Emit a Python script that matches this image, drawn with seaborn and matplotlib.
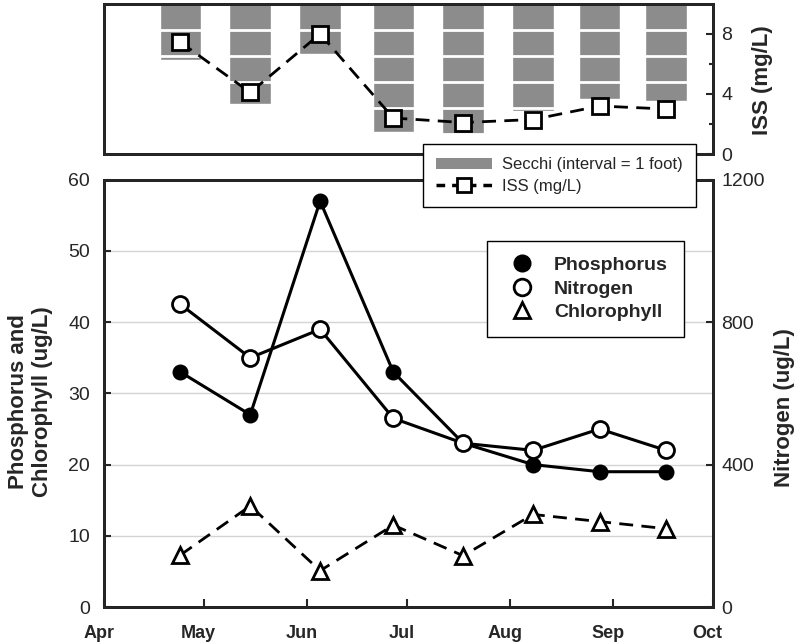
import pandas as pd
import matplotlib
matplotlib.use("Agg")
import matplotlib.pyplot as plt
import matplotlib.dates as mdates
import matplotlib.transforms as mtransforms
from matplotlib.lines import Line2D
from matplotlib.patches import Patch
import seaborn as sns

# sampling dates
dates = pd.to_datetime(["2009-04-24", "2009-05-15", "2009-06-05", "2009-06-27",
                        "2009-07-18", "2009-08-08", "2009-08-28", "2009-09-17"])
phosphorus = [33, 27, 57, 33, 23, 20, 19, 19]
nitrogen = [850, 700, 780, 530, 460, 440, 500, 440]
chlorophyll = [7.3, 14.2, 5.1, 11.5, 7.2, 13.0, 12.0, 11.0]
iss = [7.45, 4.1, 8.0, 2.4, 2.1, 2.3, 3.2, 3.0]
secchi_ft = [2.15, 3.83, 1.93, 4.92, 5.0, 4.1, 3.65, 3.72]

sns.set_style("ticks")
plt.rcParams["font.family"] = ["Liberation Sans", "DejaVu Sans"]
plt.rcParams["axes.linewidth"] = 2
plt.rcParams["xtick.direction"] = "in"
plt.rcParams["ytick.direction"] = "in"

fig = plt.figure(figsize=(7.99, 6.42), dpi=100)
ax_s = fig.add_axes([0.130, 0.760, 0.762, 0.234])
ax = fig.add_axes([0.130, 0.0545, 0.762, 0.6655])

x0 = pd.Timestamp("2009-04-01")
x1 = pd.Timestamp("2009-10-01")

# ---- top panel: Secchi bars + ISS ----
ax_s.bar(dates, secchi_ft, width=12.5, color="#8c8c8c", zorder=1)
for ft in range(1, 6):
    ax_s.axhline(ft, color="white", lw=2, zorder=2)
ax_s.set_ylim(5.76, 0)
ax_s.set_xlim(x0, x1)
ax_s.set_yticks([])
ax_s.set_xticks([])
for sp in ax_s.spines.values():
    sp.set_color("black")

ax_i = ax_s.twinx()
sns.lineplot(x=dates, y=iss, ax=ax_i, color="black", lw=2, ls=(0, (5, 3)),
             marker="s", markersize=11, markerfacecolor="white",
             markeredgecolor="black", markeredgewidth=2, legend=False)
ax_i.set_ylim(0, 10)
ax_i.set_xlim(x0, x1)
ax_i.set_yticks([0, 4, 8])
ax_i.set_yticks([2, 6], minor=True)
ax_i.tick_params(axis="y", which="major", labelsize=14, length=5, width=1.5, pad=6)
ax_i.tick_params(axis="y", which="minor", length=3, width=1.5)
ax_i.set_ylabel("ISS (mg/L)", fontsize=16, fontweight="bold")
ax_i.yaxis.set_label_coords(1.064, 0.49)
ax_i.set_xlabel("")

# ---- bottom panel ----
ax.grid(axis="y", color="#d4d4d4", lw=1)
ax.set_axisbelow(True)
sns.lineplot(x=dates, y=phosphorus, ax=ax, color="black", lw=2.2,
             marker="o", markersize=10, markerfacecolor="black",
             markeredgecolor="black", markeredgewidth=1.5, legend=False, zorder=3)
sns.lineplot(x=dates, y=chlorophyll, ax=ax, color="black", lw=2, ls=(0, (5, 3)),
             marker="^", markersize=12, markerfacecolor="white",
             markeredgecolor="black", markeredgewidth=2, legend=False, zorder=3)
ax.set_ylim(0, 60)
ax.set_yticks(range(0, 61, 10))
ax.set_xlim(x0, x1)
ax.xaxis.set_major_locator(mdates.MonthLocator())
ax.xaxis.set_major_formatter(mdates.DateFormatter("%b"))
ax.tick_params(axis="x", labelsize=13, length=6, width=1.5, pad=13)
shift = mtransforms.ScaledTranslation(-5 / 100, 0, fig.dpi_scale_trans)
for lab in ax.get_xticklabels():
    lab.set_fontweight("bold")
    lab.set_transform(lab.get_transform() + shift)
ax.tick_params(axis="y", labelsize=14, length=5, width=1.5, pad=10)
ax.set_ylabel("Phosphorus and\nChlorophyll (ug/L)", fontsize=16, fontweight="bold")
ax.yaxis.set_label_coords(-0.083, 0.48)
ax.set_xlabel("")
for sp in ax.spines.values():
    sp.set_color("black")

ax_n = ax.twinx()
sns.lineplot(x=dates, y=nitrogen, ax=ax_n, color="black", lw=2.2,
             marker="o", markersize=11.5, markerfacecolor="white",
             markeredgecolor="black", markeredgewidth=2, legend=False)
ax_n.set_ylim(0, 1200)
ax_n.set_yticks([0, 400, 800, 1200])
ax_n.set_xlim(x0, x1)
ax_n.tick_params(axis="y", labelsize=14, length=5, width=1.5, pad=6)
ax_n.set_ylabel("Nitrogen (ug/L)", fontsize=16, fontweight="bold")
ax_n.yaxis.set_label_coords(1.100, 0.466)
ax_n.set_xlabel("")

# ---- legends ----
h_main = [
    Line2D([], [], ls="none", marker="o", ms=12, mfc="black", mec="black"),
    Line2D([], [], ls="none", marker="o", ms=12, mfc="white", mec="black", mew=2),
    Line2D([], [], ls="none", marker="^", ms=12, mfc="white", mec="black", mew=2),
]
leg = ax_n.legend(h_main, ["Phosphorus", "Nitrogen", "Chlorophyll"],
                  loc="upper left", bbox_to_anchor=(0.6095, 0.6246),
                  bbox_transform=fig.transFigure, frameon=True, fancybox=False,
                  edgecolor="black", framealpha=1, borderpad=0.8,
                  handlelength=2.0, handletextpad=0.65, labelspacing=0.3,
                  borderaxespad=0, prop={"weight": "bold", "size": 14})
leg.get_frame().set_linewidth(1)

h_top = [
    Patch(facecolor="#8c8c8c", edgecolor="none"),
    Line2D([], [], color="black", lw=2.5, ls=(0, (2.5, 2)), marker="s", ms=10,
           mfc="white", mec="black", mew=2),
]
leg2 = fig.legend(h_top, ["Secchi (interval = 1 foot)", "ISS (mg/L)"],
                  loc="upper left", bbox_to_anchor=(0.5295, 0.7757),
                  frameon=True, fancybox=False, edgecolor="black",
                  framealpha=1, handlelength=3.35, handleheight=0.7,
                  borderpad=0.8, handletextpad=0.6, labelspacing=0.38,
                  borderaxespad=0, fontsize=12)
leg2.get_frame().set_linewidth(1)
leg2.set_zorder(10)

fig.savefig("out.png", dpi=100)
